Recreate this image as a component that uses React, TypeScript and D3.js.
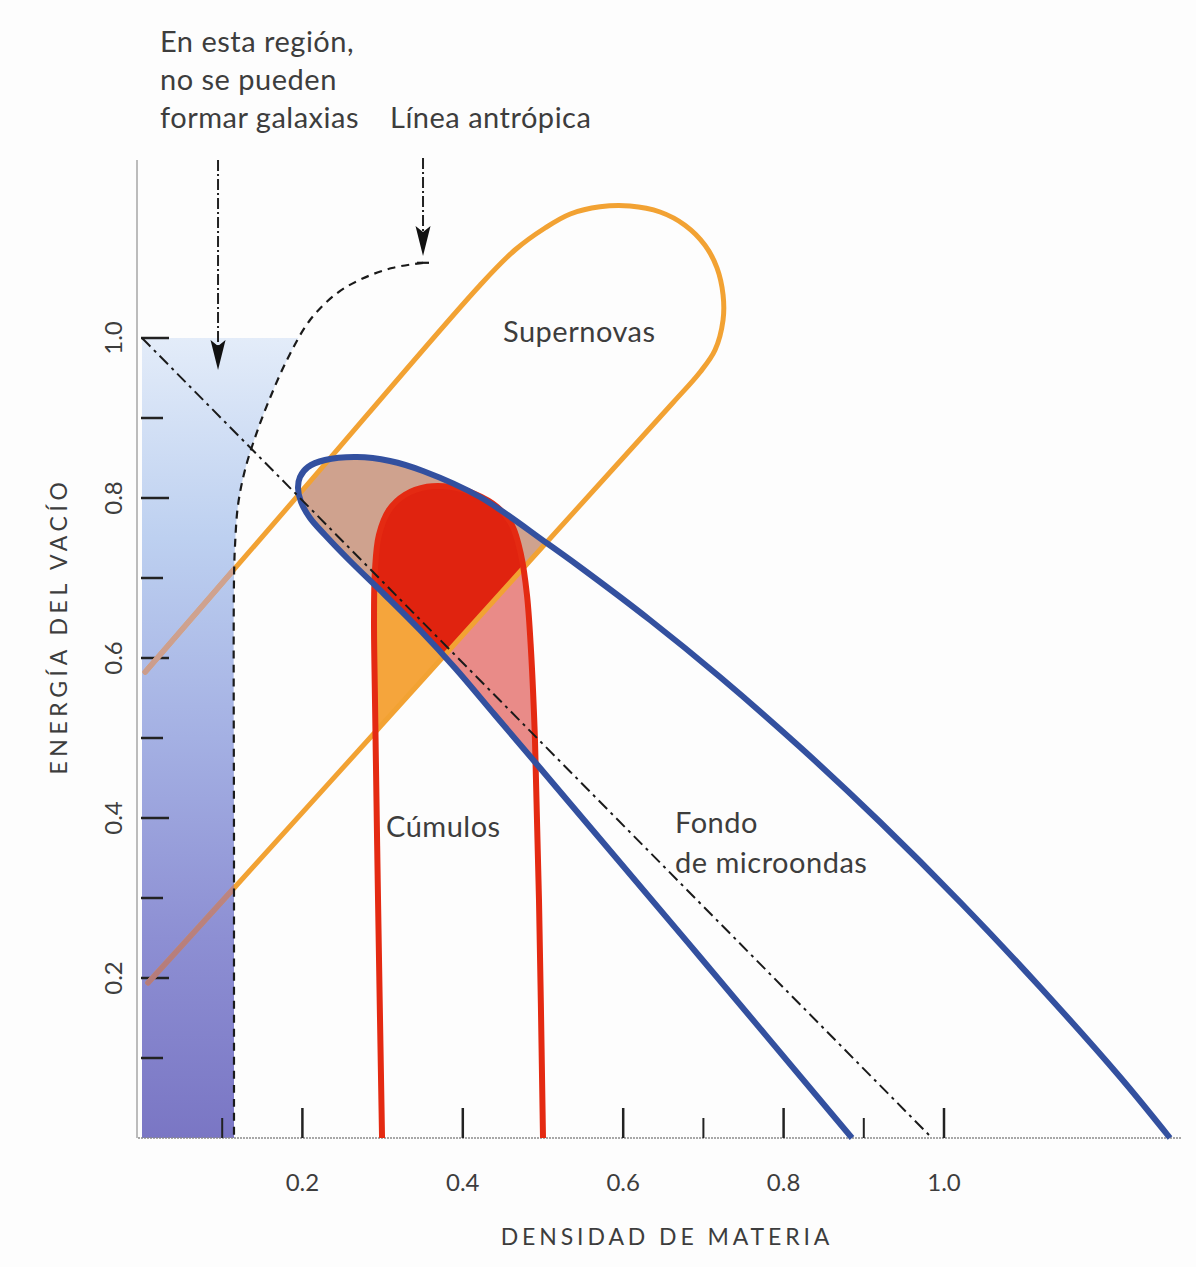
import React from "react";
import * as d3 from "d3";

type P = [number, number];

// ---- axes ----
const xTicksMajor = [0.2, 0.4, 0.6, 0.8, 1.0];
const xTicksMinor = [0.1, 0.3, 0.5, 0.7, 0.9];
const xTickLabels = ["0.2", "0.4", "0.6", "0.8", "1.0"];
const yTicksMajor = [0.2, 0.4, 0.6, 0.8, 1.0];
const yTicksMinor = [0.1, 0.3, 0.5, 0.7, 0.9];
const yTickLabels = ["0.2", "0.4", "0.6", "0.8", "1.0"];
const xTitle = "DENSIDAD DE MATERIA";
const yTitle = "ENERGÍA DEL VACÍO";

// ---- curves (density of matter, vacuum energy) ----
const supernovaBand: P[] = [
  [0.0075, 0.194], [0.1135, 0.311], [0.294, 0.511], [0.471, 0.7075],
  [0.587, 0.836], [0.662, 0.919], [0.696, 0.9575], [0.7145, 0.985],
  [0.7245, 1.0225], [0.7245, 1.054], [0.717, 1.0875], [0.702, 1.116],
  [0.677, 1.141], [0.646, 1.1575], [0.6085, 1.165], [0.571, 1.164],
  [0.534, 1.155], [0.5025, 1.1375], [0.465, 1.11], [0.4215, 1.066],
  [0.197, 0.806], [0.004, 0.5825],
];

const cmbContour: P[] = [
  [0.8853, 0], [0.6958, 0.22625], [0.5586, 0.38875], [0.4963, 0.4625],
  [0.4401, 0.52875], [0.3903, 0.5875], [0.3466, 0.635], [0.303, 0.67875],
  [0.2594, 0.72125], [0.2282, 0.75375], [0.2095, 0.775], [0.1983, 0.795],
  [0.1945, 0.8125], [0.197, 0.82625], [0.207, 0.83875], [0.2282, 0.8475],
  [0.2681, 0.85125], [0.3092, 0.84625], [0.3504, 0.83375], [0.4214, 0.80125],
  [0.505, 0.74338], [0.5461, 0.71375], [0.6334, 0.6475], [0.7207, 0.57625],
  [0.8204, 0.48875], [0.9202, 0.395], [1.02, 0.295], [1.1197, 0.18875],
  [1.2195, 0.07625], [1.2818, 0],
];

const clusterContour: P[] = [
  [0.2993, 0], [0.2943, 0.2975], [0.2905, 0.5475], [0.2893, 0.6475],
  [0.2905, 0.71], [0.2955, 0.754], [0.308, 0.785], [0.328, 0.804],
  [0.3554, 0.814], [0.384, 0.814], [0.4152, 0.805], [0.4426, 0.789],
  [0.4613, 0.766], [0.4726, 0.729], [0.48, 0.679], [0.485, 0.61],
  [0.49, 0.4975], [0.495, 0.2975], [0.5, 0],
];

const anthropicLine: P[] = [
  [0.3504, 1.094], [0.3117, 1.0875], [0.2743, 1.074], [0.2431, 1.056],
  [0.2095, 1.0225], [0.182, 0.975], [0.1596, 0.925], [0.1421, 0.879],
  [0.1284, 0.835], [0.1197, 0.791], [0.116, 0.741], [0.1147, 0.6975],
  [0.1147, 0.35], [0.1147, 0],
];

const flatLine: P[] = [[0, 1.0], [0.985, 0]];

// arrows: [x, yStart, yTip]
const arrowGalaxias: [number, number, number] = [0.0948, 1.2225, 0.96];
const arrowAnthropic: [number, number, number] = [0.3504, 1.225, 1.1025];

const W = 1196;
const H = 1267;

const x = d3.scaleLinear().domain([0, 1]).range([142, 944]);
const y = d3.scaleLinear().domain([0, 1]).range([1138, 338]);

const smooth = d3
  .line<P>()
  .x((d) => x(d[0]))
  .y((d) => y(d[1]))
  .curve(d3.curveCatmullRom.alpha(0.5));
const straight = d3
  .line<P>()
  .x((d) => x(d[0]))
  .y((d) => y(d[1]));

const FONT = "Lato, 'Open Sans', 'DejaVu Sans', sans-serif";
const TXT = "#3d3d3d";

const ORANGE = "#f2a233";
const BLUE = "#33509f";
const RED = "#e42a12";

function Arrow({ a }: { a: [number, number, number] }) {
  const ax = x(a[0]);
  const y0 = y(a[1]);
  const yt = y(a[2]);
  return (
    <g>
      <line x1={ax} x2={ax} y1={y0} y2={yt - 22} stroke="#222" strokeWidth={2} strokeDasharray="11,3,2,3" />
      <path d={`M${ax},${yt} L${ax - 7.5},${yt - 30} L${ax},${yt - 24} L${ax + 7.5},${yt - 30} Z`} fill="#111" />
    </g>
  );
}

export default function App() {
  const bandOpen = smooth(supernovaBand) as string;
  const bandClosed = bandOpen + "Z";
  const blueOpen = smooth(cmbContour) as string;
  const blueClosed = blueOpen + "Z";
  const redOpen = smooth(clusterContour) as string;
  const redClosed = redOpen + "Z";
  const anth = smooth(anthropicLine) as string;
  const top = anthropicLine[0];
  const galClip = `${anth} L${x(0)},${y(0)} L${x(0)},${y(top[1])} Z`;

  return (
    <svg
      width={W}
      height={H}
      viewBox={`0 0 ${W} ${H}`}
      style={{ position: "absolute", left: 0, top: 0, background: "#fdfdfd" }}
    >
      <defs>
        <clipPath id="clipBlue">
          <path d={blueClosed} />
        </clipPath>
        <clipPath id="clipRed">
          <path d={redClosed} />
        </clipPath>
        <clipPath id="clipGal">
          <path d={galClip} />
        </clipPath>
        <linearGradient id="galGrad" x1="0" y1="1" x2="0" y2="0">
          <stop offset="0" stopColor="#7a76c4" />
          <stop offset="0.25" stopColor="#8d8fd3" />
          <stop offset="0.5" stopColor="#a4b0e3" />
          <stop offset="0.75" stopColor="#bdd0f0" />
          <stop offset="1" stopColor="#e3ecf9" />
        </linearGradient>
        <linearGradient id="brownGrad" gradientUnits="userSpaceOnUse" x1="0" y1={y(0.15)} x2="0" y2={y(0.65)}>
          <stop offset="0" stopColor="#b37778" />
          <stop offset="1" stopColor="#cfa28f" />
        </linearGradient>
      </defs>

      {/* galaxy-free region */}
      <g clipPath="url(#clipGal)">
        <rect x={x(0)} y={y(1.0)} width={x(0.4) - x(0)} height={y(0) - y(1.0)} fill="url(#galGrad)" />
      </g>

      {/* overlap fills */}
      <g clipPath="url(#clipBlue)">
        <path d={redClosed} fill="#e98b88" />
        <path d={bandClosed} fill="#cfa28e" />
      </g>
      <g clipPath="url(#clipRed)">
        <path d={bandClosed} fill="#f5a53c" />
        <g clipPath="url(#clipBlue)">
          <path d={bandClosed} fill="#e0230f" />
        </g>
      </g>

      {/* axes */}
      <line x1={137} x2={137} y1={160} y2={y(0)} stroke="#9a9a9a" strokeWidth={1.3} />
      <line x1={138} x2={1182} y1={y(0)} y2={y(0)} stroke="#8a8a8a" strokeWidth={1.6} strokeDasharray="2,1" />
      {xTicksMajor.map((v) => (
        <line key={"xM" + v} x1={x(v)} x2={x(v)} y1={y(0)} y2={y(0) - 30} stroke="#222" strokeWidth={2.5} />
      ))}
      {xTicksMinor.map((v) => (
        <line key={"xm" + v} x1={x(v)} x2={x(v)} y1={y(0)} y2={y(0) - 20} stroke="#222" strokeWidth={2} />
      ))}
      {yTicksMajor.map((v) => (
        <line key={"yM" + v} x1={141} x2={169} y1={y(v)} y2={y(v)} stroke="#222" strokeWidth={2.5} />
      ))}
      {yTicksMinor.map((v) => (
        <line key={"ym" + v} x1={141} x2={163} y1={y(v)} y2={y(v)} stroke="#222" strokeWidth={2.5} />
      ))}

      {/* supernova band */}
      <path d={bandOpen} fill="none" stroke={ORANGE} strokeWidth={5} strokeLinecap="round" />
      <g clipPath="url(#clipGal)">
        <path d={bandOpen} fill="none" stroke="url(#brownGrad)" strokeWidth={5.5} strokeLinecap="round" />
      </g>

      {/* anthropic line */}
      <path d={anth} fill="none" stroke="#1a1a1a" strokeWidth={2.2} strokeDasharray="8,6" />
      <line x1={x(top[0]) - 6} x2={x(top[0]) + 6} y1={y(top[1])} y2={y(top[1])} stroke="#1a1a1a" strokeWidth={2.2} />

      {/* clusters */}
      <path d={redOpen} fill="none" stroke={RED} strokeWidth={6} />
      {/* CMB */}
      <path d={blueOpen} fill="none" stroke={BLUE} strokeWidth={6} strokeLinejoin="round" />

      {/* flat universe line */}
      <path d={straight(flatLine) as string} fill="none" stroke="#1a1a1a" strokeWidth={2} strokeDasharray="12,5,3,5" />

      {/* arrows */}
      <Arrow a={arrowGalaxias} />
      <Arrow a={arrowAnthropic} />

      {/* tick labels */}
      {xTicksMajor.map((v, i) => (
        <text key={"xl" + v} x={x(v)} y={1191} textAnchor="middle" fontFamily={FONT} fontSize={24} fill={TXT}>
          {xTickLabels[i]}
        </text>
      ))}
      {yTicksMajor.map((v, i) => (
        <text
          key={"yl" + v}
          transform={`translate(122,${y(v)}) rotate(-90)`}
          textAnchor="middle"
          fontFamily={FONT}
          fontSize={24}
          fill={TXT}
        >
          {yTickLabels[i]}
        </text>
      ))}
      <text x={667} y={1245} textAnchor="middle" fontFamily={FONT} fontSize={23} letterSpacing={3.9} fill={TXT}>
        {xTitle}
      </text>
      <text
        transform={`translate(67,626) rotate(-90)`}
        textAnchor="middle"
        fontFamily={FONT}
        fontSize={23}
        letterSpacing={4.6}
        fill={TXT}
      >
        {yTitle}
      </text>

      {/* annotations */}
      <g fontFamily={FONT} fontSize={29} letterSpacing={0.5} fill={TXT}>
        <text x={160} y={52}>En esta región,</text>
        <text x={160} y={90}>no se pueden</text>
        <text x={160} y={128}>formar galaxias</text>
        <text x={390} y={128}>Línea antrópica</text>
        <text x={503} y={342}>Supernovas</text>
        <text x={386} y={837}>Cúmulos</text>
        <text x={675} y={833}>Fondo</text>
        <text x={675} y={873}>de microondas</text>
      </g>
    </svg>
  );
}
